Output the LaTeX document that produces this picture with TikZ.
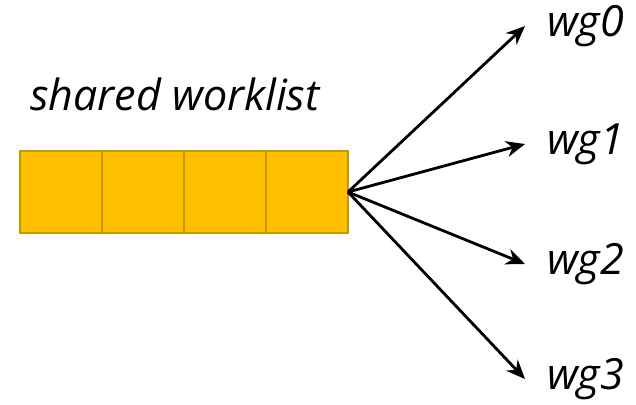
\documentclass[tikz,border=0pt]{standalone}
\usepackage{fontspec}
\setmainfont{Open Sans}
\usetikzlibrary{positioning,arrows.meta}
\definecolor{cellfill}{HTML}{FFC000}
\definecolor{cellborder}{HTML}{C49A00}

\begin{document}
\begin{tikzpicture}[x=1pt,y=1pt,font=\fontsize{43}{49}\selectfont\itshape,
  cell/.style={draw=cellborder,fill=cellfill,line width=1.5pt,
    minimum width=82pt,minimum height=82pt,inner sep=0pt,outer sep=0pt},
  wgarrow/.style={-{Stealth[length=19pt,width=16pt]},line width=2.8pt}]
\useasboundingbox (0,0) rectangle (636,-404);
% the worklist, four cells in a row
\foreach \X [count=\Y,remember=\Y as \LastY] in {0,1,2,3}
  {\ifnum\Y=1
  \node[cell] (C-\Y) at (61,-192) {};
  \else
  \node[cell,right=0pt of C-\LastY] (C-\Y) {};
  \fi}
\node[anchor=base] (title) at (175,-110) {shared worklist};
% one arrow per work group
\foreach \X/\Z in {0/26,1/144,2/264,3/379}
  {\node[anchor=west,inner xsep=22pt,inner ysep=0pt] (wg\X) at (525,-\Z) {wg\X};
  \draw[wgarrow] (C-4.east) -- (wg\X.west);}
\end{tikzpicture}
\end{document}
